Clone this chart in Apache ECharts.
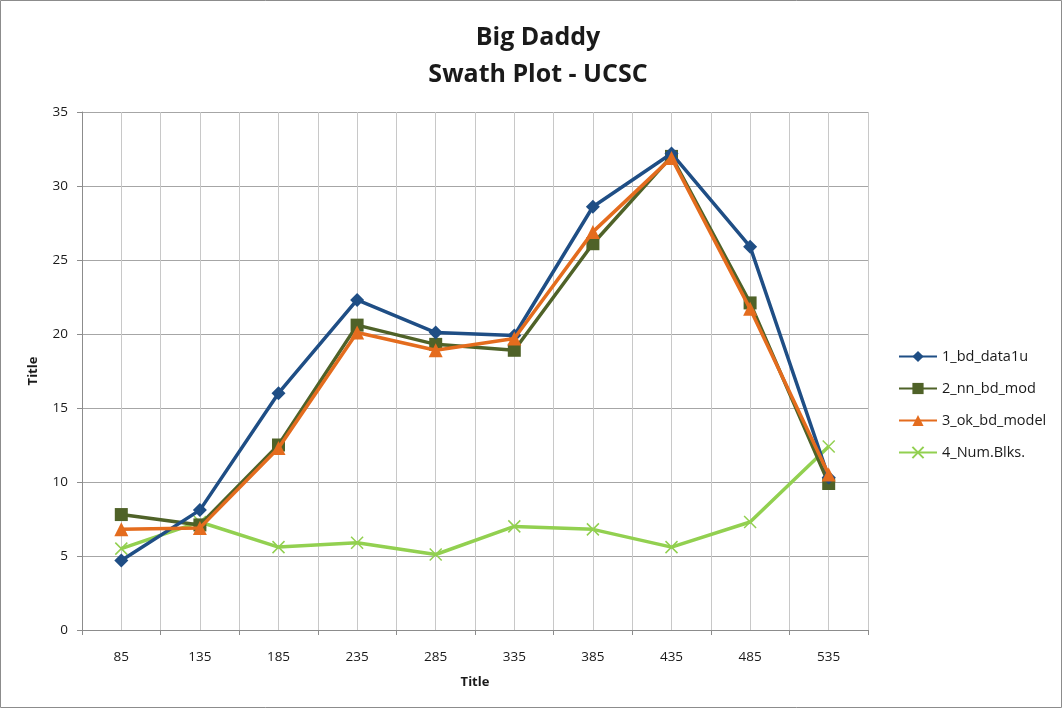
<!DOCTYPE html>
<html>
<head>
<meta charset="utf-8">
<script src="https://cdn.jsdelivr.net/npm/echarts@6/dist/echarts.min.js"></script>
<style>
  html, body { margin: 0; padding: 0; background: #fff; }
  #chart { width: 1063px; height: 709px; }
</style>
</head>
<body>
<div id="chart"></div>
<script>
// Swath plot: values per swath slice
const categories = ['85', '135', '185', '235', '285', '335', '385', '435', '485', '535'];
const bdData1u   = [4.7, 8.1, 16.0, 22.3, 20.1, 19.9, 28.6, 32.2, 25.9, 10.3];
const nnBdMod    = [7.8, 7.1, 12.5, 20.6, 19.3, 18.9, 26.1, 32.0, 22.1, 9.9];
const okBdModel  = [6.8, 6.9, 12.3, 20.1, 18.9, 19.7, 26.9, 31.9, 21.7, 10.5];
const numBlks    = [5.5, 7.3, 5.6, 5.9, 5.1, 7.0, 6.8, 5.6, 7.3, 12.4];
const seriesNames = ['1_bd_data1u', '2_nn_bd_mod', '3_ok_bd_model', '4_Num.Blks.'];

const FONT = '"Open Sans", "Noto Sans", sans-serif';
const chart = echarts.init(document.getElementById('chart'), null, { renderer: 'canvas' });

const crossPath = 'path://M0,0L10,10M10,0L0,10';

chart.setOption({
  backgroundColor: '#ffffff',
  animation: false,
  title: {
    text: 'Big Daddy\nSwath Plot - UCSC',
    top: 14,
    left: 533,
    textAlign: 'center',
    textStyle: { fontFamily: FONT, fontSize: 25, fontWeight: 'bold', color: '#1a1a1a', lineHeight: 37 }
  },
  graphic: [{
    type: 'rect',
    shape: { x: 0.5, y: 0.5, width: 1061, height: 707 },
    style: { fill: 'none', stroke: '#8c8c8c', lineWidth: 1 },
    silent: true
  }],
  legend: {
    orient: 'vertical',
    left: 893,
    top: 344,
    itemGap: 17,
    itemWidth: 38,
    itemHeight: 14,
    textStyle: { fontFamily: FONT, fontSize: 14.5, color: '#1a1a1a' },
    data: seriesNames
  },
  grid: { left: 82, right: 195, top: 112, bottom: 79, containLabel: false },
  xAxis: [{
    type: 'category',
    data: categories,
    boundaryGap: true,
    name: 'Title',
    nameLocation: 'middle',
    nameGap: 46,
    nameTextStyle: { fontFamily: FONT, fontSize: 13, fontWeight: 'bold', color: '#1a1a1a' },
    axisLine: { lineStyle: { color: '#8c8c8c', width: 1 } },
    axisTick: { show: true, length: 5, lineStyle: { color: '#8c8c8c' } },
    axisLabel: { fontFamily: FONT, fontSize: 13.5, color: '#1a1a1a', margin: 20 },
    splitLine: { show: false }
  }, {
    // half-slot grid lines (slot boundaries and centres)
    type: 'value',
    min: 0, max: 20, interval: 1,
    show: true,
    position: 'bottom',
    axisLine: { show: false },
    axisTick: { show: false },
    axisLabel: { show: false },
    splitLine: { show: true, lineStyle: { color: '#c8c8c8', width: 1 } }
  }],
  yAxis: {
    type: 'value',
    min: 0, max: 35, interval: 5,
    name: 'Title',
    nameLocation: 'middle',
    nameGap: 42,
    nameRotate: 90,
    nameTextStyle: { fontFamily: FONT, fontSize: 13, fontWeight: 'bold', color: '#1a1a1a' },
    axisLine: { show: true, lineStyle: { color: '#8c8c8c', width: 1 } },
    axisTick: { show: true, length: 5, lineStyle: { color: '#8c8c8c' } },
    axisLabel: { fontFamily: FONT, fontSize: 13.5, color: '#1a1a1a', margin: 14 },
    splitLine: { show: true, lineStyle: { color: '#a6a6a6', width: 1 } }
  },
  series: [{
    name: seriesNames[0], type: 'line', data: bdData1u, xAxisIndex: 0,
    symbol: 'diamond', symbolSize: 14, z: 4,
    lineStyle: { color: '#1f4e85', width: 3.5 },
    itemStyle: { color: '#1f4e85' }
  }, {
    name: seriesNames[1], type: 'line', data: nnBdMod, xAxisIndex: 0,
    symbol: 'rect', symbolSize: 13, z: 3,
    lineStyle: { color: '#4f6228', width: 3.5 },
    itemStyle: { color: '#4f6228' }
  }, {
    name: seriesNames[2], type: 'line', data: okBdModel, xAxisIndex: 0,
    symbol: 'triangle', symbolSize: 14, z: 5,
    lineStyle: { color: '#e46c1e', width: 3.5 },
    itemStyle: { color: '#e46c1e' }
  }, {
    name: seriesNames[3], type: 'line', data: numBlks, xAxisIndex: 0,
    symbol: crossPath, symbolSize: 12, z: 2,
    lineStyle: { color: '#92d050', width: 3.5 },
    itemStyle: { color: '#92d050', borderColor: '#92d050', borderWidth: 1.5 }
  }]
});
</script>
</body>
</html>
